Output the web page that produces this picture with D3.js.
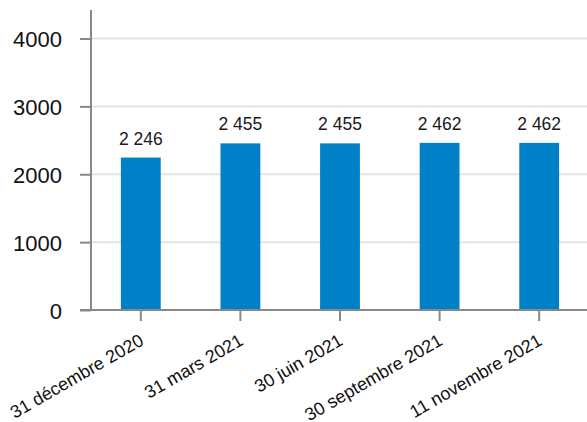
<!DOCTYPE html>
<html><head><meta charset="utf-8">
<script src="https://cdn.jsdelivr.net/npm/d3@7"></script>
<style>body{margin:0;background:#fff}svg{display:block}</style>
</head><body>
<svg id="c" width="587" height="422"></svg>
<script>
const categories = ["31 décembre 2020","31 mars 2021","30 juin 2021","30 septembre 2021","11 novembre 2021"];
const values = [2246, 2455, 2455, 2462, 2462];
const valueLabels = ["2 246","2 455","2 455","2 462","2 462"];
const yTicks = [0,1000,2000,3000,4000];

const svg = d3.select("#c");
const x = d3.scaleBand().domain(categories).range([91, 589]).paddingInner(0.6).paddingOuter(0.3);
const y = d3.scaleLinear().domain([0, 4000]).range([310, 38.5]);

// grid
svg.append("g").selectAll("line").data(yTicks.filter(d=>d>0)).join("line")
  .attr("x1", 91).attr("x2", 587).attr("y1", d=>y(d)).attr("y2", d=>y(d))
  .attr("stroke", "#e3e3e3").attr("stroke-width", 2);

// bars
svg.append("g").selectAll("rect").data(values).join("rect")
  .attr("x", (d,i)=>x(categories[i])).attr("width", x.bandwidth())
  .attr("y", d=>y(d)).attr("height", d=>y(0)-y(d)).attr("fill", "#0080c6");

// value labels
svg.append("g").selectAll("text").data(values).join("text")
  .attr("x", (d,i)=>x(categories[i]) + x.bandwidth()/2)
  .attr("y", d=>y(d) - 13)
  .attr("text-anchor", "middle")
  .attr("font-family", "Liberation Sans, Arial, sans-serif")
  .attr("font-size", 17.5).attr("fill", "#1a1a1a")
  .text((d,i)=>valueLabels[i]);

// y axis
const ya = svg.append("g").attr("transform", "translate(91,0)")
  .call(d3.axisLeft(y).tickValues(yTicks).tickSize(11).tickPadding(18).tickFormat(d3.format("d")));
ya.select(".domain").attr("d", "M0,10V310").attr("stroke", "#888").attr("stroke-width", 2);
ya.selectAll(".tick line").attr("stroke", "#888").attr("stroke-width", 2);
ya.selectAll(".tick text").attr("font-family", "Liberation Sans, Arial, sans-serif").attr("font-size", 22).attr("fill", "#111").attr("dy", "0.38em");

// x axis
const xa = svg.append("g").attr("transform", "translate(0,310)")
  .call(d3.axisBottom(x).tickSize(11).tickSizeOuter(0));
xa.select(".domain").attr("d", "M80,0H587").attr("stroke", "#888").attr("stroke-width", 2);
xa.selectAll(".tick line").attr("stroke", "#888").attr("stroke-width", 2);
xa.selectAll(".tick text")
  .attr("font-family", "Liberation Sans, Arial, sans-serif").attr("font-size", 18).attr("fill", "#111")
  .attr("text-anchor", "end").attr("dy", null)
  .attr("transform", "translate(4,34) rotate(-30)").attr("y", 0).attr("x", 0);
</script>
</body></html>
